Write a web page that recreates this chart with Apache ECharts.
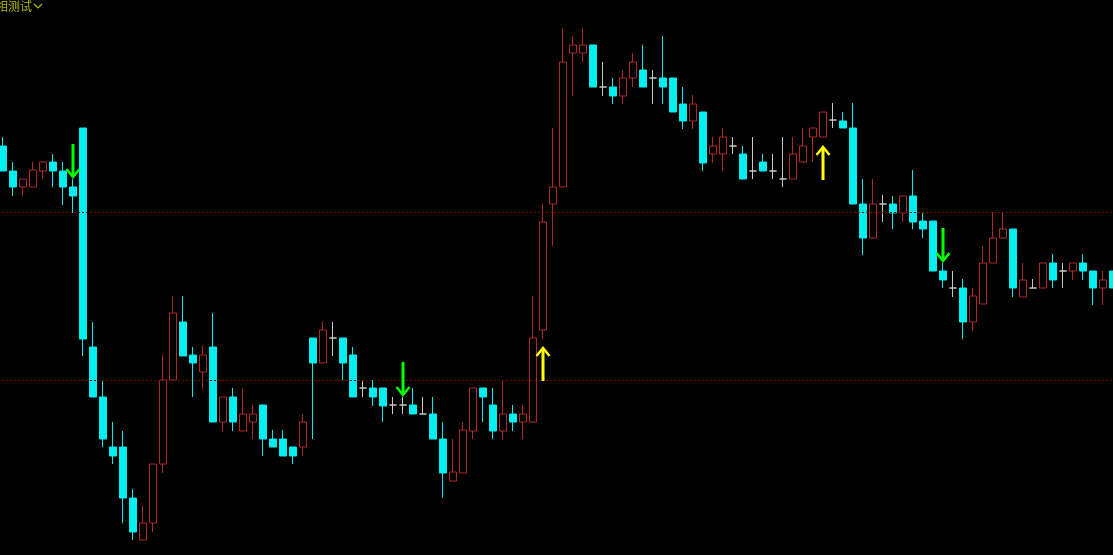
<!DOCTYPE html>
<html>
<head>
<meta charset="utf-8">
<script src="https://cdn.jsdelivr.net/npm/echarts@6/dist/echarts.min.js"></script>
<style>
html,body{margin:0;padding:0;background:#000;overflow:hidden;}
#c{position:absolute;left:-2px;top:0;width:1120px;height:555px;}
</style>
</head>
<body>
<div id="c"></div>
<script>
// Candle index labels (bars)
const categories = Array.from({length: 112}, (_, i) => 'B' + i);
// OHLC values: [open, close, low, high]
const candles = [
[454,429,429,463],[429,413,404,438],[413,421,404,421],[413,430,413,438],[429,438,421,438],
[438,429,413,446],[429,413,395,438],[413,404,387,421],[472,261,244,472],[253,203,203,278],
[203,161,153,220],[153,144,136,178],[153,102,77,169],[102,68,60,111],[60,77,60,94],
[77,136,68,136],[136,220,127,245],[220,287,220,304],[278,244,244,304],[245,237,203,253],
[228,245,211,254],[253,178,178,287],[178,203,169,203],[203,178,169,212],[169,186,169,212],
[178,186,161,195],[195,161,144,195],[161,153,153,170],[161,144,144,170],[153,144,136,153],
[153,178,144,186],[262,237,161,262],[237,270,237,278],[262,262,244,278],[262,237,219,262],
[245,203,203,253],[212,212,203,220],[212,203,194,220],[212,194,178,212],[195,195,186,203],
[195,195,186,203],[195,186,186,212],[186,186,186,203],[186,161,161,203],[161,127,102,178],
[119,128,119,161],[127,170,127,178],[169,212,161,212],[212,203,178,212],[195,169,161,212],
[169,186,161,220],[186,178,169,195],[178,186,161,195],[178,262,178,304],[270,378,261,396],
[396,413,354,472],[413,538,413,572],[547,555,504,564],[547,555,538,572],[555,513,513,555],
[513,513,504,538],[513,504,496,522],[504,522,496,530],[522,538,513,547],[530,513,513,555],
[522,522,496,530],[522,513,496,564],[522,488,488,522],[496,479,471,513],[479,496,471,505],
[488,437,429,488],[446,454,437,463],[446,463,429,472],[454,454,446,463],[446,421,421,454],
[429,429,421,463],[438,429,429,446],[429,429,421,446],[421,421,413,463],[421,446,421,463],
[438,454,438,472],[463,472,438,472],[463,488,463,488],[480,480,472,497],[479,472,472,488],
[472,396,396,497],[396,362,345,421],[362,396,362,421],[396,396,378,405],[396,387,371,404],
[387,404,378,404],[404,378,371,430],[379,371,362,388],[379,329,329,379],[329,320,312,337],
[312,312,303,329],[312,278,261,321],[278,304,269,312],[296,337,296,354],[337,362,337,388],
[362,371,362,388],[371,312,303,371],[303,320,303,337],[312,312,312,321],[312,337,312,337],
[337,320,312,346],[329,329,312,337],[329,337,320,337],[337,329,320,346],[329,312,295,329],
[312,320,295,329],[329,312,312,329]
];
// Signal arrows: [bar index, tip value, tail value, 1 = up / -1 = down]
const arrows = [
[7,423,456,-1],[40,205,238,-1],[94,339,372,-1],[54,252,219,1],[82,453,420,1]
];
// Horizontal dotted levels
const levels = [388, 220];
const titleText = '相测试';

const chart = echarts.init(document.getElementById('c'), null, {renderer:'canvas'});
const UP = '#b0282a', DOWN = '#00f0f0', DOJI = '#c8c8c8';
chart.setOption({
  backgroundColor:'#000000',
  animation:false,
  grid:{left:0, right:0, top:0, bottom:0},
  xAxis:{type:'category', data:categories, show:false, boundaryGap:true},
  yAxis:{type:'value', min:45, max:600, show:false, splitLine:{show:false}},
  graphic:[
    {type:'text', left:-2, top:0, style:{text:titleText, fill:'#b8b800', font:'12px "Noto Sans CJK SC"'}},
    {type:'polyline', shape:{points:[[36,4],[40,8],[44,4]]}, style:{stroke:'#b8b800', lineWidth:1.2, fill:null}}
  ],
  series:[
    {
      type:'candlestick',
      data:candles,
      barWidth:8,
      itemStyle:{
        color:'#000000', color0:DOWN,
        borderColor:UP, borderColor0:DOWN, borderColorDoji:DOJI,
        borderWidth:1
      },
      markLine:{
        silent:true, symbol:'none', label:{show:false},
        lineStyle:{color:'#7a0000', type:[2,2], width:1},
        data:levels.map(v=>({yAxis:v}))
      }
    },
    {
      type:'custom',
      data:arrows,
      renderItem:function(params, api){
        const tip = api.coord([api.value(0), api.value(1)]);
        const tail = api.coord([api.value(0), api.value(2)]);
        const dir = api.value(3);
        const col = dir > 0 ? '#ffff00' : '#00ff00';
        const hy = tip[1] + (dir > 0 ? 8 : -8);
        return {type:'group', children:[
          {type:'line', shape:{x1:tail[0], y1:tail[1], x2:tip[0], y2:tip[1]}, style:{stroke:col, lineWidth:3}},
          {type:'polyline', shape:{points:[[tip[0]-6.5,hy],[tip[0],tip[1]],[tip[0]+6.5,hy]]}, style:{stroke:col, lineWidth:2.5, fill:null}}
        ]};
      },
      z:5
    }
  ]
});
</script>
</body>
</html>
